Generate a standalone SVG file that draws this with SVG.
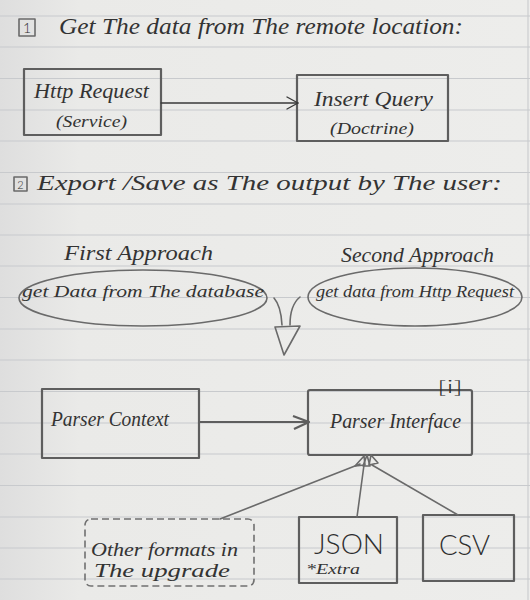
<svg xmlns="http://www.w3.org/2000/svg" width="530" height="600" viewBox="0 0 530 600">
<defs>
<style>
.rule{stroke:#c8cacd;stroke-width:1.1}
.box{fill:none;stroke:#5e5e5e;stroke-width:2.2;stroke-linejoin:round}
.pen{fill:none;stroke:#3a3a3a;stroke-width:1.4;stroke-linecap:round;stroke-linejoin:round}
.pencil{fill:none;stroke:#6a6a6a;stroke-width:1.6;stroke-linecap:round;stroke-linejoin:round}
.dash{fill:none;stroke:#707070;stroke-width:1.6;stroke-dasharray:7 4}
.hand{font-family:"Liberation Serif","DejaVu Serif",serif;font-style:italic;fill:#333333}
.print{font-family:Lato,"Liberation Sans","DejaVu Sans",sans-serif;font-weight:300;fill:#2e2e2e}
</style>
<linearGradient id="shade" x1="0" y1="0" x2="1" y2="0">
<stop offset="0" stop-color="#dedede"/>
<stop offset="0.15" stop-color="#eaeae8"/>
<stop offset="1" stop-color="#ededeb"/>
</linearGradient>
</defs>

<!-- paper -->
<rect x="0" y="0" width="530" height="600" fill="url(#shade)"/>
<g id="rules">
<line class="rule" x1="0" y1="16" x2="530" y2="16"/>
<line class="rule" x1="0" y1="47" x2="530" y2="47"/>
<line class="rule" x1="0" y1="78.5" x2="530" y2="78.5"/>
<line class="rule" x1="0" y1="110" x2="530" y2="110"/>
<line class="rule" x1="0" y1="141" x2="530" y2="141"/>
<line class="rule" x1="0" y1="172.5" x2="530" y2="172.5"/>
<line class="rule" x1="0" y1="204" x2="530" y2="204"/>
<line class="rule" x1="0" y1="235" x2="530" y2="235"/>
<line class="rule" x1="0" y1="266" x2="530" y2="266"/>
<line class="rule" x1="0" y1="297.5" x2="530" y2="297.5"/>
<line class="rule" x1="0" y1="329" x2="530" y2="329"/>
<line class="rule" x1="0" y1="360" x2="530" y2="360"/>
<line class="rule" x1="0" y1="391.5" x2="530" y2="391.5"/>
<line class="rule" x1="0" y1="423" x2="530" y2="423"/>
<line class="rule" x1="0" y1="454" x2="530" y2="454"/>
<line class="rule" x1="0" y1="485.5" x2="530" y2="485.5"/>
<line class="rule" x1="0" y1="517" x2="530" y2="517"/>
<line class="rule" x1="0" y1="548" x2="530" y2="548"/>
<line class="rule" x1="0" y1="579" x2="530" y2="579"/>
<line class="rule" x1="528" y1="0" x2="528" y2="600"/>
</g>

<!-- heading 1 -->
<g id="heading1">
<rect class="pencil" x="19" y="19" width="16" height="17"/>
<text class="print" x="27" y="33" font-size="14" text-anchor="middle">1</text>
<text class="hand" x="59" y="34" font-size="24" textLength="404" lengthAdjust="spacingAndGlyphs">Get The data from The remote location:</text>
</g>

<g id="http-request">
<rect class="box" x="24" y="69" width="137" height="66"/>
<text class="hand" x="34" y="98" font-size="22" textLength="115" lengthAdjust="spacingAndGlyphs">Http Request</text>
<text class="hand" x="56" y="127" font-size="16" textLength="71" lengthAdjust="spacingAndGlyphs">(Service)</text>
</g>

<g id="insert-query">
<rect class="box" x="297" y="75" width="151" height="66"/>
<text class="hand" x="314" y="106" font-size="22" textLength="119" lengthAdjust="spacingAndGlyphs">Insert Query</text>
<text class="hand" x="330" y="134" font-size="17" textLength="84" lengthAdjust="spacingAndGlyphs">(Doctrine)</text>
</g>

<!-- heading 2 -->
<g id="heading2">
<rect class="pencil" x="14" y="177" width="13" height="14"/>
<text class="print" x="20.5" y="189" font-size="11" text-anchor="middle">2</text>
<text class="hand" x="37" y="190" font-size="22" textLength="465" lengthAdjust="spacingAndGlyphs">Export /Save as The output by The user:</text>
</g>

<g id="first-approach">
<text class="hand" x="64" y="260" font-size="22" textLength="149" lengthAdjust="spacingAndGlyphs">First Approach</text>
<ellipse class="pencil" cx="143" cy="298" rx="124" ry="28"/>
<text class="hand" x="22" y="297" font-size="17" textLength="242" lengthAdjust="spacingAndGlyphs">get Data from The database</text>
</g>

<g id="second-approach">
<text class="hand" x="341" y="262" font-size="22" textLength="153" lengthAdjust="spacingAndGlyphs">Second Approach</text>
<ellipse class="pencil" cx="415" cy="297" rx="107" ry="29"/>
<text class="hand" x="316" y="297" font-size="17" textLength="198" lengthAdjust="spacingAndGlyphs">get data from Http Request</text>
</g>

<g id="parser-context">
<rect class="box" x="42" y="389" width="157" height="69"/>
<text class="hand" x="51" y="426" font-size="22" textLength="118" lengthAdjust="spacingAndGlyphs">Parser Context</text>
</g>

<g id="parser-interface">
<rect class="box" x="308" y="390" width="164" height="65" rx="2"/>
<text class="hand" x="330" y="428" font-size="22" textLength="131" lengthAdjust="spacingAndGlyphs">Parser Interface</text>
<text class="print" x="437" y="393" font-size="17" textLength="26" lengthAdjust="spacingAndGlyphs">[i]</text>
</g>

<g id="other-formats">
<rect class="dash" x="85" y="519" width="169" height="67" rx="6"/>
<text class="hand" x="91" y="556" font-size="18" textLength="147" lengthAdjust="spacingAndGlyphs">Other formats in</text>
<text class="hand" x="94" y="577" font-size="18" textLength="136" lengthAdjust="spacingAndGlyphs">The  upgrade</text>
</g>

<g id="json">
<rect class="box" x="299" y="517" width="98" height="66"/>
<text class="print" x="314" y="554" font-size="28" textLength="70" lengthAdjust="spacingAndGlyphs">JSON</text>
<text class="hand" x="306" y="574" font-size="14" textLength="54" lengthAdjust="spacingAndGlyphs">*Extra</text>
</g>

<g id="csv">
<rect class="box" x="423" y="515" width="91" height="66"/>
<text class="print" x="439" y="555" font-size="28" textLength="51" lengthAdjust="spacingAndGlyphs">CSV</text>
</g>

<g id="connectors">
<!-- Http Request -> Insert Query -->
<line class="pen" x1="161" y1="103" x2="298" y2="103"/>
<polyline class="pen" points="287,97 298,103 287,109"/>
<!-- approaches down arrow -->
<path class="pencil" d="M274,298 Q281,306 282,325"/>
<path class="pencil" d="M300,297 Q290,305 290,325"/>
<path class="pencil" d="M275,327 L300,326 L284,355 Z"/>
<!-- Parser Context -> Parser Interface -->
<line class="box" x1="199" y1="422" x2="309" y2="422"/>
<polyline class="box" points="293,416 309,422 294,429"/>
<!-- realizations -->
<line class="pencil" x1="220" y1="519" x2="360" y2="464"/>
<line class="pencil" x1="357" y1="517" x2="364" y2="465"/>
<line class="pencil" x1="458" y1="515" x2="372" y2="465"/>
<path class="pencil" d="M355,466 L364,456 L365,465 Z"/>
<path class="pencil" d="M363,466 L367,455 L370,466 Z"/>
<path class="pencil" d="M369,465 L371,455 L378,463 Z"/>
</g>
</svg>
